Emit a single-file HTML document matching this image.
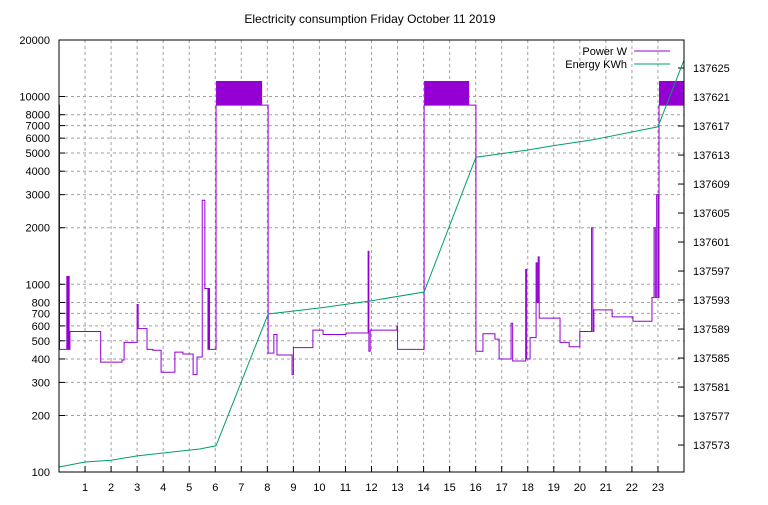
<!DOCTYPE html>
<html><head><meta charset="utf-8"><style>
html,body{margin:0;padding:0;background:#fff;}
svg text{font-family:"Liberation Sans",Arial,sans-serif;font-size:11px;fill:#000;}
</style></head><body>
<svg id="chart" width="768" height="500" xmlns="http://www.w3.org/2000/svg">
<text x="370" y="23" text-anchor="middle" style="font-size:12px">Electricity consumption Friday October 11 2019</text>
<g id="grid"></g>
<g id="axes"></g>
<g id="series"></g>
<rect x="59" y="40" width="625" height="432" fill="none" stroke="#000" stroke-width="1"/>
<g>
<text x="627" y="55" text-anchor="end">Power W</text>
<line x1="634" y1="51" x2="670" y2="51" stroke="#9400d3" stroke-width="1"/>
<text x="627" y="68" text-anchor="end">Energy KWh</text>
<line x1="634" y1="64" x2="670" y2="64" stroke="#009e73" stroke-width="1"/>
</g>
</svg>
<script>
const xTicks=[1,2,3,4,5,6,7,8,9,10,11,12,13,14,15,16,17,18,19,20,21,22,23];
const yTicks=[100,200,300,400,500,600,700,800,1000,2000,3000,4000,5000,6000,7000,8000,10000,20000];
const y2Ticks=[137573,137577,137581,137585,137589,137593,137597,137601,137605,137609,137613,137617,137621,137625];
// power steps: [hour, watts]
const powerHours=[0,0.02,0.3,0.33,0.36,0.39,0.42,1.6,2.42,2.5,3.0,3.04,3.38,3.6,3.92,4.45,4.76,5.15,5.3,5.5,5.6,5.72,5.75,5.78,5.9,6.03,8.03,8.25,8.37,8.95,9.0,9.75,10.14,11.02,11.87,11.9,11.95,12.98,13.0,14.02,16.01,16.28,16.74,16.9,17.36,17.42,17.5,17.92,17.96,18.09,18.32,18.36,18.4,18.44,19.24,19.59,20.0,20.45,20.5,20.54,21.24,22.04,22.77,22.85,22.9,22.95,23.0,23.04,24];
const powerWatts=[9000,450,1100,450,1100,450,560,385,395,490,780,580,450,445,340,435,425,330,410,2800,950,450,950,450,450,9000,430,540,420,330,460,570,540,550,1500,440,570,600,450,9000,440,545,510,400,620,390,390,1200,400,520,1300,800,1400,660,490,465,560,2000,560,730,670,635,850,2000,850,3000,850,9000,9000];
// dense oscillation bands: [startHour, endHour, low, high]
const bandStart=[6.03,14.02,23.04];
const bandEnd=[7.8,15.75,24];
const bandLow=[9000,9000,9000];
const bandHigh=[12100,12100,12100];
// energy: [hour, kWh]
const energyHours=[0,1,2,3,4,5,5.4,6.03,8.03,10,12,14.02,16.01,18,19,20.5,23.0,24];
const energyKwh=[137569.97,137570.66,137570.9,137571.5,137571.9,137572.3,137572.45,137572.9,137591.07,137591.9,137592.9,137594.1,137612.7,137613.7,137614.3,137615.1,137616.9,137626.1];

const L=59,R=684,T=40,B=472;
const X=h=>L+h*(R-L)/24;
const Y=w=>B-(Math.log10(w)-2)/Math.log10(200)*(B-T);
const Y2=e=>B-(e-137569.28)*7.25;
const NS="http://www.w3.org/2000/svg";
function mk(tag,attrs,parent){const e=document.createElementNS(NS,tag);for(const k in attrs)e.setAttribute(k,attrs[k]);parent.appendChild(e);return e;}
const grid=document.getElementById('grid'),axes=document.getElementById('axes'),series=document.getElementById('series');
xTicks.forEach(h=>{
  const g=mk('line',{x1:X(h),x2:X(h),y1:T,y2:B,stroke:'#a0a0a0','stroke-dasharray':'3,3'},grid);
  
  
  const t=mk('line',{x1:X(h),x2:X(h),y1:B,y2:B-6,stroke:'#000'},axes);
  
  
  const l=mk('text',{x:X(h),y:B+19,'text-anchor':'middle'},axes);l.textContent=h;
  
  
});
yTicks.forEach(w=>{
  const g=mk('line',{x1:L,x2:R,y1:Y(w),y2:Y(w),stroke:'#a0a0a0','stroke-dasharray':'3,3'},grid);
  
  
  const t=mk('line',{x1:L,x2:L+6,y1:Y(w),y2:Y(w),stroke:'#000'},axes);
  
  
  const l=mk('text',{x:L-9,y:Y(w)+4,'text-anchor':'end'},axes);l.textContent=w;
  
  
});
y2Ticks.forEach(e=>{
  const t=mk('line',{x1:R,x2:R-6,y1:Y2(e),y2:Y2(e),stroke:'#000'},axes);
  
  
  const l=mk('text',{x:R+9,y:Y2(e)+4,'text-anchor':'start'},axes);l.textContent=e;
  
  
});
let d='';
for(let i=0;i<powerHours.length;i++){
  const x=X(powerHours[i]),y=Y(powerWatts[i]);
  if(i===0)d+=`M${x},${y}`;else d+=`V${y}`;
  if(i<powerHours.length-1)d+=`H${X(powerHours[i+1])}`;
}
const p=mk('path',{d:d,fill:'none',stroke:'#9400d3','stroke-width':1},series);


for(let i=0;i<bandStart.length;i++){
  const r=mk('rect',{x:X(bandStart[i]),y:Y(bandHigh[i]),width:X(bandEnd[i])-X(bandStart[i]),height:Y(bandLow[i])-Y(bandHigh[i]),fill:'#9400d3'},series);
  
  
}
const ed=energyHours.map((h,i)=>(i?'L':'M')+X(h)+','+Y2(energyKwh[i])).join('');
const e=mk('path',{d:ed,fill:'none',stroke:'#009e73','stroke-width':1},series);


</script>
</body></html>
